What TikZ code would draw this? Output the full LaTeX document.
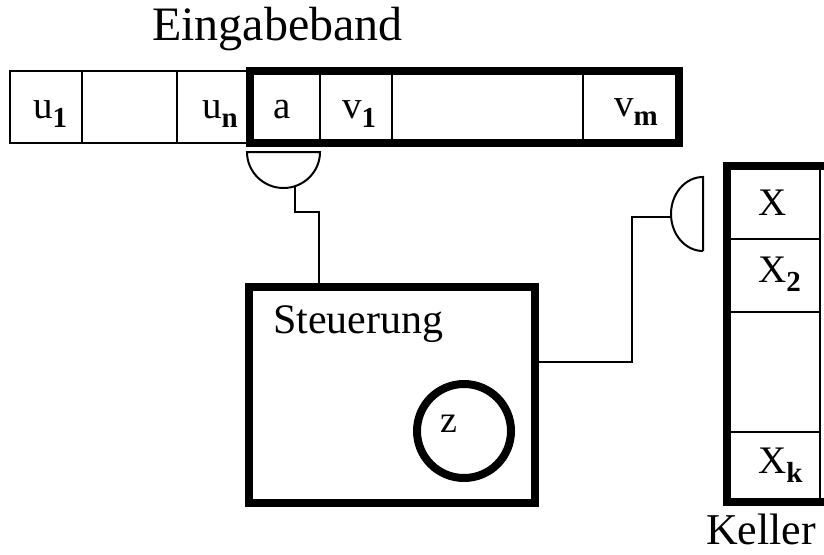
\documentclass[tikz,border=0pt]{standalone}
\usepackage{fontspec}
\setmainfont{Liberation Serif}
\newcommand{\lsub}[1]{\raisebox{-9pt}{\fontsize{29}{29}\selectfont\bfseries #1}}
\begin{document}
\begin{tikzpicture}[x=1pt,y=-1pt,
  thinline/.style={line width=2pt},
  cell/.style={draw, line width=2pt, inner sep=0pt, outer sep=0pt, anchor=north west},
  frame/.style={draw, line width=7.5pt, inner sep=0pt, outer sep=0pt},
  lbl/.style={inner sep=0pt, anchor=base west, font=\fontsize{39}{39}\selectfont},
  title/.style={inner sep=0pt, anchor=base west, font=\fontsize{48}{48}\selectfont}]
\useasboundingbox (0,0) rectangle (824,554);
\clip (0,0) rectangle (824,554);
% input tape, left part
\node[cell, minimum width=72pt, minimum height=72pt] (c1) at (10,71) {};
\node[cell, minimum width=95pt, minimum height=72pt] (c2) at (82,71) {};
\node[cell, minimum width=73pt, minimum height=72pt] (c3) at (177,71) {};
% input tape, right part
\node[cell, minimum width=70pt, minimum height=72pt] (c4) at (250,71) {};
\node[cell, minimum width=72pt, minimum height=72pt] (c5) at (320,71) {};
\node[cell, minimum width=191pt, minimum height=72pt] (c6) at (392,71) {};
\node[cell, minimum width=96pt, minimum height=72pt] (c7) at (583,71) {};
\node[frame, minimum width=429pt, minimum height=72pt] (tape) at (464.5,107) {};
% labels on tape
\node[title] (eb) at (152,40) {Eingabeband};
\node[lbl] (lu1) at (33,118) {u\lsub{1}};
\node[lbl] (lun) at (202,118) {u\lsub{n}};
\node[lbl] (la) at (273,118) {a};
\node[lbl] (lv1) at (342,118) {v\lsub{1}};
\node[lbl] (lvm) at (614,116) {v\lsub{m}};
% reading head on tape
\draw[thinline] (247,152) -- (320,152) arc[start angle=0, end angle=-180, x radius=36.5pt, y radius=36pt] -- cycle;
\coordinate (hT) at (295,186);
% control unit
\node[frame, line width=8pt, minimum width=286pt, minimum height=216pt] (ctrl) at (392,395) {};
\node[inner sep=0pt, anchor=base west, font=\fontsize{42}{42}\selectfont] (st) at (273,333) {Steuerung};
\node[draw, circle, line width=8pt, minimum size=94pt, inner sep=0pt] (zc) at (464,431) {};
\node[inner sep=0pt, font=\fontsize{38}{38}\selectfont] (zt) at (449,424) {z};
% connector tape head -> control
\coordinate (bend) at (319,212);
\draw[thinline] (hT) |- (bend) -- (bend |- ctrl.north);
% stack
\node[cell, minimum width=93pt, minimum height=73pt] (k1) at (727,166) {};
\node[cell, minimum width=93pt, minimum height=73pt] (k2) at (727,239) {};
\node[cell, minimum width=93pt, minimum height=120pt] (k3) at (727,312) {};
\node[cell, minimum width=93pt, minimum height=70pt] (k4) at (727,432) {};
\node[frame, minimum width=113pt, minimum height=336pt] (keller) at (783.5,334) {};
\node[lbl] (lx) at (758,215) {X};
\node[lbl] (lx2) at (758,282) {X\lsub{2}};
\node[lbl] (lxk) at (758,473) {X\lsub{k}};
\node[inner sep=0pt, anchor=base west, font=\fontsize{44}{44}\selectfont] (kl) at (706,544) {Keller};
% stack head
\draw[thinline] (703,251) -- (703,177) arc[start angle=90, end angle=270, x radius=32pt, y radius=37pt];
\coordinate (hK) at (671,217);
\coordinate (w) at (632,362);
\draw[thinline] (hK) -| (w) -- (ctrl.east |- w);
\end{tikzpicture}
\end{document}
